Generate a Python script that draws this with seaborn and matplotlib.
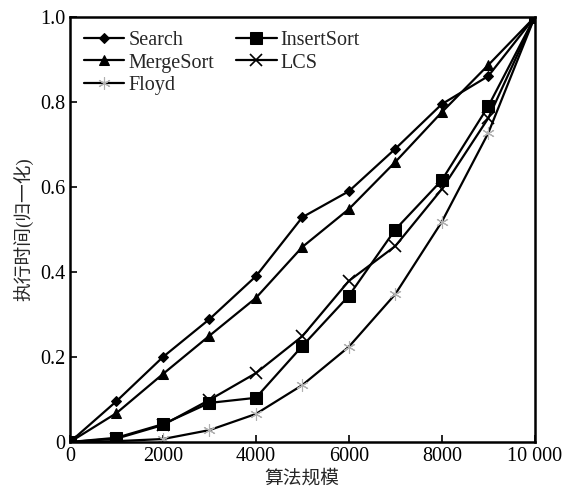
import matplotlib
matplotlib.use("Agg")
import matplotlib.pyplot as plt
import seaborn as sns

# Data
scale = [0, 1000, 2000, 3000, 4000, 5000, 6000, 7000, 8000, 9000, 10000]
search = [0, 0.096, 0.200, 0.289, 0.390, 0.529, 0.590, 0.690, 0.795, 0.861, 1.0]
merge_sort = [0, 0.068, 0.160, 0.250, 0.339, 0.459, 0.548, 0.659, 0.776, 0.887, 1.0]
insert_sort = [0, 0.010, 0.042, 0.092, 0.104, 0.226, 0.344, 0.500, 0.616, 0.790, 1.0]
lcs = [0, 0.008, 0.040, 0.099, 0.162, 0.249, 0.379, 0.461, 0.595, 0.762, 1.0]
floyd = [0, 0.002, 0.007, 0.028, 0.066, 0.134, 0.224, 0.348, 0.518, 0.727, 1.0]

x_ticks = [0, 2000, 4000, 6000, 8000, 10000]
x_tick_labels = ["0", "2000", "4000", "6000", "8000", "10 000"]
y_ticks = [0, 0.2, 0.4, 0.6, 0.8, 1.0]
y_tick_labels = ["0", "0.2", "0.4", "0.6", "0.8", "1.0"]

sns.set_theme(style="ticks")
plt.rcParams["font.family"] = ["Liberation Serif", "Noto Sans CJK SC"]
plt.rcParams["xtick.direction"] = "in"
plt.rcParams["ytick.direction"] = "in"

fig = plt.figure(figsize=(5.75, 4.92), dpi=100)
ax = fig.add_axes([0.1217, 0.1016, 0.8083, 0.8638])

asterisk = (6, 2, 0)
series = [
    ("Search", search, dict(marker="D", markersize=5, markerfacecolor="black", markeredgecolor="black")),
    ("MergeSort", merge_sort, dict(marker="^", markersize=7, markerfacecolor="black", markeredgecolor="black")),
    ("Floyd", floyd, dict(marker=asterisk, markersize=9, markeredgecolor="#b0b0b0", markeredgewidth=0.8)),
    ("InsertSort", insert_sort, dict(marker="s", markersize=8, markerfacecolor="black", markeredgecolor="black")),
    ("LCS", lcs, dict(marker="x", markersize=9, markeredgecolor="black", markeredgewidth=1.2)),
]

for name, values, style in series:
    sns.lineplot(x=scale, y=values, ax=ax, color="black", linewidth=1.6, label=name, **style)

ax.set_xlim(0, 10000)
ax.set_ylim(0, 1.0)
ax.set_xticks(x_ticks)
ax.set_xticklabels(x_tick_labels)
ax.set_yticks(y_ticks)
ax.set_yticklabels(y_tick_labels)
ax.tick_params(axis="both", labelsize=14.5, length=5, width=1.2, color="black", labelcolor="black")
for spine in ax.spines.values():
    spine.set_linewidth(1.8)
    spine.set_color("black")

ax.set_xlabel("算法规模", fontsize=13.5, labelpad=3)
ax.set_ylabel("执行时间(归一化)", fontsize=13.5, labelpad=4)

ax.legend(loc="upper left", ncol=2, frameon=False, fontsize=14.5, handlelength=2.0,
          handletextpad=0.2, columnspacing=1.1, labelspacing=0.16, borderaxespad=0.3)

fig.savefig("out.png", dpi=100)
